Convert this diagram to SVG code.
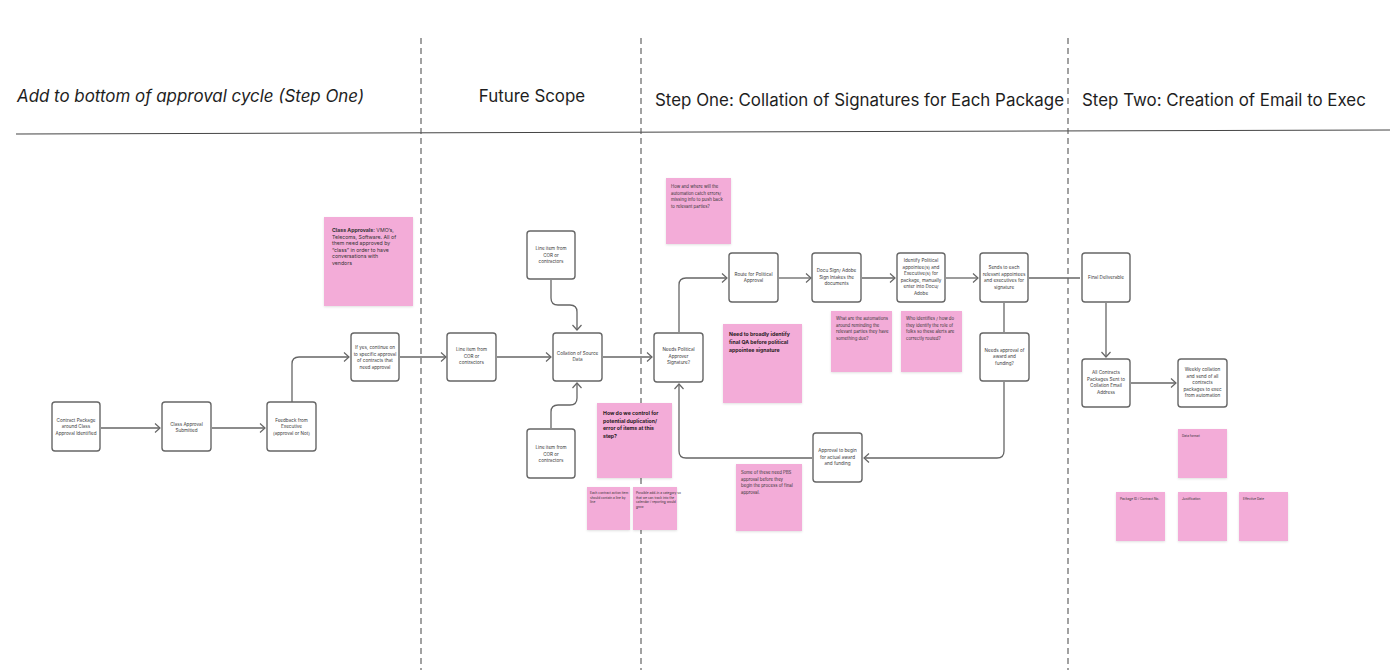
<svg xmlns="http://www.w3.org/2000/svg" width="1390" height="670" viewBox="0 0 1390 670">
<style>
.bg{fill:#ffffff}
.hdr{font-family:Inter,"Liberation Sans",sans-serif;font-size:16.9px;fill:#1e1e1e}
.sep{stroke:#555;stroke-width:1.1;stroke-dasharray:6,4;fill:none}
.node rect{fill:#fff;stroke:#666;stroke-width:1.4}
.node text{font-family:Inter,"Liberation Sans",sans-serif;font-size:4.6px;fill:#3a3a3a;text-anchor:middle}
.sticky rect{fill:#f3acd8;filter:url(#sh)}
.sticky text{font-family:Inter,"Liberation Sans",sans-serif;font-size:4.3px;fill:#333}
.sticky text.c{font-size:5.2px}
.sticky text.b{font-weight:bold;font-size:5.2px;fill:#2a1a24}
.sticky text.s{font-size:3.2px}
.conn path{fill:none;stroke:#666;stroke-width:1.3}
</style>
<defs>
<marker id="ar" markerUnits="userSpaceOnUse" markerWidth="10" markerHeight="12" refX="6" refY="5" orient="auto">
<path d="M1,0.5 L6,5 L1,9.5" fill="none" stroke="#666" stroke-width="1.2"/>
</marker>
<filter id="sh" x="-10%" y="-10%" width="130%" height="130%">
<feDropShadow dx="0" dy="1" stdDeviation="0.8" flood-color="#000" flood-opacity="0.12"/>
</filter>
</defs>
<rect class="bg" x="0" y="0" width="1390" height="670"/>

<g id="headers">
<text class="hdr" x="17" y="102" font-style="italic">Add to bottom of approval cycle (Step One)</text>
<text class="hdr" x="532" y="102" text-anchor="middle">Future Scope</text>
<text class="hdr" x="655" y="106">Step One: Collation of Signatures for Each Package</text>
<text class="hdr" x="1082" y="106">Step Two: Creation of Email to Exec</text>
<line x1="16" y1="134" x2="1390" y2="130" stroke="#444" stroke-width="1"/>
<line class="sep" x1="421" y1="38" x2="421" y2="670"/>
<line class="sep" x1="641" y1="38" x2="641" y2="670"/>
<line class="sep" x1="1068" y1="38" x2="1068" y2="670"/>
</g>

<g id="connectors" class="conn">
<path d="M101,428 H160" marker-end="url(#ar)"/>
<path d="M212,428 H265" marker-end="url(#ar)"/>
<path d="M292,402 V364 Q292,357 299,357 H349" marker-end="url(#ar)"/>
<path d="M400,357 H446" marker-end="url(#ar)"/>
<path d="M497,357 H551" marker-end="url(#ar)"/>
<path d="M551,280 V298 Q551,305 558,305 H570 Q577,305 577,312 V330" marker-end="url(#ar)"/>
<path d="M551,428 V412 Q551,405 558,405 H570 Q577,405 577,398 V383" marker-end="url(#ar)"/>
<path d="M603,357 H652" marker-end="url(#ar)"/>
<path d="M679,332 V285 Q679,278 686,278 H727" marker-end="url(#ar)"/>
<path d="M779,278 H811" marker-end="url(#ar)"/>
<path d="M862,278 H895" marker-end="url(#ar)"/>
<path d="M946,278 H978" marker-end="url(#ar)"/>
<path d="M1029,278 H1080"/>
<path d="M1004,303 V332"/>
<path d="M1004,382 V451 Q1004,458 997,458 H864" marker-end="url(#ar)"/>
<path d="M812,458 H686 Q679,458 679,451 V384" marker-end="url(#ar)"/>
<path d="M1106,303 V357" marker-end="url(#ar)"/>
<path d="M1131,383 H1176" marker-end="url(#ar)"/>
</g>

<g id="n-contract" class="node"><rect x="52" y="402" width="48" height="49" rx="3"/>
<text x="76" y="421.5">Contract Package</text><text x="76" y="428">around Class</text><text x="76" y="434.5">Approval Identified</text></g>
<g id="n-classsub" class="node"><rect x="162" y="402" width="49" height="49" rx="3"/>
<text x="186.5" y="425.5">Class Approval</text><text x="186.5" y="432">Submitted</text></g>
<g id="n-feedback" class="node"><rect x="267" y="402" width="49" height="49" rx="3"/>
<text x="291.5" y="421.5">Feedback from</text><text x="291.5" y="428">Executive</text><text x="291.5" y="434.5">(approval or Not)</text></g>
<g id="n-ifyes" class="node"><rect x="351" y="333" width="48" height="48" rx="3"/>
<text x="375" y="349">If yes, continue on</text><text x="375" y="355.5">to specific approval</text><text x="375" y="362">of contracts that</text><text x="375" y="368.5">need approval</text></g>

<g id="n-line1" class="node"><rect x="447" y="333" width="49" height="48" rx="3"/>
<text x="471.5" y="351">Line item from</text><text x="471.5" y="357.5">COR or</text><text x="471.5" y="364">contractors</text></g>
<g id="n-line2" class="node"><rect x="527" y="231" width="48" height="48" rx="3"/>
<text x="551" y="250">Line item from</text><text x="551" y="256.5">COR or</text><text x="551" y="263">contractors</text></g>
<g id="n-line3" class="node"><rect x="527" y="429" width="48" height="49" rx="3"/>
<text x="551" y="449">Line item from</text><text x="551" y="455.5">COR or</text><text x="551" y="462">contractors</text></g>
<g id="n-collation" class="node"><rect x="553" y="333" width="49" height="48" rx="3"/>
<text x="577.5" y="354.5">Collation of Source</text><text x="577.5" y="361">Data</text></g>

<g id="n-needspol" class="node"><rect x="654" y="333" width="49" height="49" rx="3"/>
<text x="678.5" y="351">Needs Political</text><text x="678.5" y="357.5">Approver</text><text x="678.5" y="364">Signature?</text></g>
<g id="n-route" class="node"><rect x="729" y="253" width="49" height="49" rx="3"/>
<text x="753.5" y="275.5">Route for Political</text><text x="753.5" y="282">Approval</text></g>
<g id="n-docu" class="node"><rect x="812" y="253" width="49" height="49" rx="3"/>
<text x="836.5" y="272">Docu Sign/ Adobe</text><text x="836.5" y="278.5">Sign Intakes the</text><text x="836.5" y="285">documents</text></g>
<g id="n-identify" class="node"><rect x="897" y="253" width="48" height="49" rx="3"/>
<text x="921" y="262">Identify Political</text><text x="921" y="268.5">appointee(s) and</text><text x="921" y="275">Executive(s) for</text><text x="921" y="281.5">package, manually</text><text x="921" y="288">enter into Docu/</text><text x="921" y="294.5">Adobe</text></g>
<g id="n-sends" class="node"><rect x="980" y="253" width="48" height="49" rx="3"/>
<text x="1004" y="269">Sends to each</text><text x="1004" y="275.5">relevant appointees</text><text x="1004" y="282">and executives for</text><text x="1004" y="288.5">signature</text></g>
<g id="n-needsaward" class="node"><rect x="980" y="333" width="49" height="48" rx="3"/>
<text x="1004.5" y="351.5">Needs approval of</text><text x="1004.5" y="358">award and</text><text x="1004.5" y="364.5">funding?</text></g>
<g id="n-approval" class="node"><rect x="813" y="433" width="49" height="49" rx="3"/>
<text x="837.5" y="452">Approval to begin</text><text x="837.5" y="458.5">for actual award</text><text x="837.5" y="465">and funding</text></g>

<g id="n-final" class="node"><rect x="1082" y="253" width="48" height="49" rx="3"/>
<text x="1106" y="279">Final Deliverable</text></g>
<g id="n-allcontracts" class="node"><rect x="1082" y="359" width="48" height="48" rx="3"/>
<text x="1106" y="374">All Contracts</text><text x="1106" y="380.5">Packages Sent to</text><text x="1106" y="387">Collation Email</text><text x="1106" y="393.5">Address</text></g>
<g id="n-weekly" class="node"><rect x="1178" y="359" width="49" height="48" rx="3"/>
<text x="1202.5" y="371">Weekly collation</text><text x="1202.5" y="377.5">and send of all</text><text x="1202.5" y="384">contracts</text><text x="1202.5" y="390.5">packages to exec</text><text x="1202.5" y="397">from automation</text></g>

<g id="s-classapprovals" class="sticky"><rect x="324" y="217" width="89" height="89"/>
<text class="c" x="332" y="232"><tspan font-weight="bold">Class Approvals:</tspan> VMO’s,</text>
<text class="c" x="332" y="238.6">Telecoms, Software. All of</text>
<text class="c" x="332" y="245.2">them need approved by</text>
<text class="c" x="332" y="251.8">“class” in order to have</text>
<text class="c" x="332" y="258.4">conversations with</text>
<text class="c" x="332" y="265">vendors</text></g>

<g id="s-howwhere" class="sticky"><rect x="666" y="178" width="65" height="66"/>
<text x="671" y="188">How and where will the</text>
<text x="671" y="194.5">automation catch errors/</text>
<text x="671" y="201">missing info to push back</text>
<text x="671" y="207.5">to relevant parties?</text></g>

<g id="s-needqa" class="sticky"><rect x="723" y="324" width="79" height="79"/>
<text class="b" x="729" y="336">Need to broadly identify</text>
<text class="b" x="729" y="344">final QA before political</text>
<text class="b" x="729" y="352">appointee signature</text></g>

<g id="s-automations" class="sticky"><rect x="831" y="311" width="61" height="61"/>
<text x="836" y="320">What are the automations</text>
<text x="836" y="326.5">around reminding the</text>
<text x="836" y="333">relevant parties they have</text>
<text x="836" y="339.5">something due?</text></g>

<g id="s-whoidentifies" class="sticky"><rect x="901" y="311" width="61" height="61"/>
<text x="906" y="320">Who identifies / how do</text>
<text x="906" y="326.5">they identify the role of</text>
<text x="906" y="333">folks so these alerts are</text>
<text x="906" y="339.5">correctly routed?</text></g>

<g id="s-pbs" class="sticky"><rect x="736" y="464" width="66" height="67"/>
<text x="741" y="474">Some of these need PBS</text>
<text x="741" y="480.5">approval before they</text>
<text x="741" y="487">begin the process of final</text>
<text x="741" y="493.5">approval.</text></g>

<g id="s-duplication" class="sticky"><rect x="597" y="403" width="75" height="75"/>
<text class="b" x="603" y="415">How do we control for</text>
<text class="b" x="603" y="422.5">potential duplication/</text>
<text class="b" x="603" y="430">error of items at this</text>
<text class="b" x="603" y="437.5">step?</text></g>

<g id="s-small1" class="sticky"><rect x="587" y="487" width="43" height="43"/>
<text class="s" x="590" y="494">Each contract action item</text>
<text class="s" x="590" y="498.5">should contain a line by</text>
<text class="s" x="590" y="503">line</text></g>
<g id="s-small2" class="sticky"><rect x="633" y="487" width="44" height="43"/>
<text class="s" x="636" y="494">Possible add-in a category so</text>
<text class="s" x="636" y="498.5">that we can track into the</text>
<text class="s" x="636" y="503">calendar / reporting would</text>
<text class="s" x="636" y="507.5">grow</text></g>

<g id="s-dataformat" class="sticky"><rect x="1178" y="429" width="49" height="49"/>
<text class="s" x="1182" y="437">Data format</text></g>
<g id="s-packageid" class="sticky"><rect x="1116" y="492" width="49" height="49"/>
<text class="s" x="1120" y="500">Package ID / Contract No.</text></g>
<g id="s-justification" class="sticky"><rect x="1178" y="492" width="49" height="49"/>
<text class="s" x="1182" y="500">Justification</text></g>
<g id="s-effective" class="sticky"><rect x="1239" y="492" width="49" height="49"/>
<text class="s" x="1243" y="500">Effective Date</text></g>
</svg>
